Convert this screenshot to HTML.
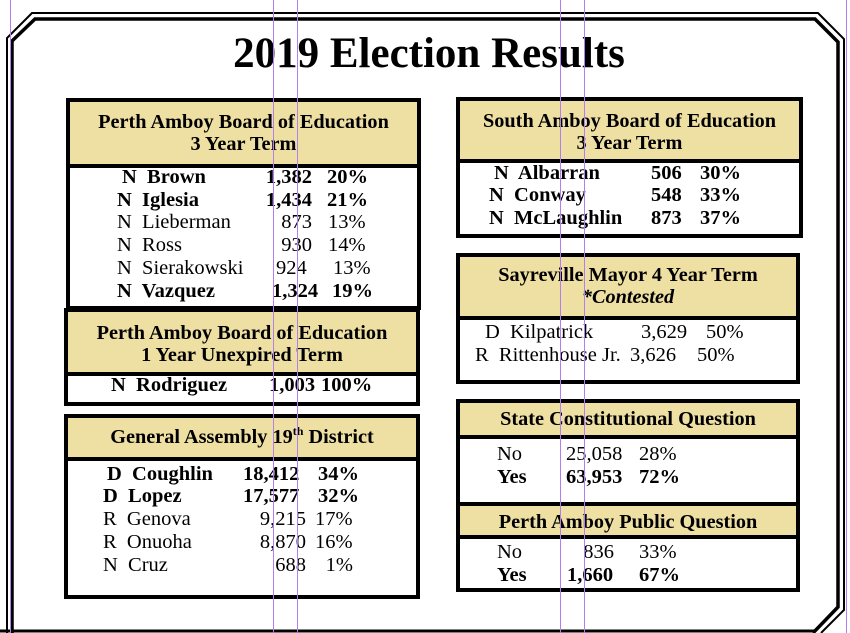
<!DOCTYPE html>
<html><head><meta charset="utf-8"><style>
body{margin:0;width:850px;height:633px;background:#fff;position:relative;overflow:hidden;font-family:"Liberation Serif",serif;color:#000}
.a{position:absolute;white-space:nowrap}
.box{position:absolute;border:4px solid #000;background:#fff;box-sizing:border-box}
.hd{position:absolute;background:#EEDFA3;border-bottom:4px solid #000;left:0;right:0;top:0;text-align:center;font-weight:bold;font-size:20.3px;line-height:22px;box-sizing:border-box}
.r{position:absolute;font-size:20.5px;line-height:22px;white-space:nowrap}
.b{font-weight:bold}
.n{display:inline-block;text-align:right}
.v{position:absolute;top:0;width:1px;height:633px;background:#b27ef0}
</style></head><body>
<svg class="a" style="left:0;top:0" width="850" height="633">
<polyline points="7,633 7,38 32,13 818,13 844,39 844,610 821,633" fill="none" stroke="#000" stroke-width="2"/>
<polyline points="12,633 12,41 35,19 815,19 838,42 838,607 813,633" fill="none" stroke="#000" stroke-width="3.5"/>
<line x1="0" y1="631" x2="816" y2="631" stroke="#000" stroke-width="3"/>
</svg>
<div class="a b" style="left:0;width:858px;text-align:center;top:29px;font-size:43px;line-height:50px">2019 Election Results</div>

<div class="box" style="left:66px;top:98px;width:355px;height:212px">
<div class="hd" style="height:66px;padding-top:9px">Perth Amboy Board of Education<br>3 Year Term</div>
</div>
<div class="r b" style="left:122px;top:166px">N&nbsp; Brown</div><div class="r b" style="left:255px;top:166px"><span class="n" style="width:57px">1,382</span></div><div class="r b" style="left:327px;top:166px">20%</div>
<div class="r b" style="left:117px;top:189px">N&nbsp; Iglesia</div><div class="r b" style="left:255px;top:189px"><span class="n" style="width:57px">1,434</span></div><div class="r b" style="left:327px;top:189px">21%</div>
<div class="r" style="left:117px;top:211px">N&nbsp; Lieberman</div><div class="r" style="left:255px;top:211px"><span class="n" style="width:57px">873</span></div><div class="r" style="left:328px;top:211px">13%</div>
<div class="r" style="left:117px;top:234px">N&nbsp; Ross</div><div class="r" style="left:255px;top:234px"><span class="n" style="width:57px">930</span></div><div class="r" style="left:328px;top:234px">14%</div>
<div class="r" style="left:117px;top:257px">N&nbsp; Sierakowski</div><div class="r" style="left:276px;top:257px">924</div><div class="r" style="left:333px;top:257px">13%</div>
<div class="r b" style="left:117px;top:280px">N&nbsp; Vazquez</div><div class="r b" style="left:272px;top:280px">1,324</div><div class="r b" style="left:332px;top:280px">19%</div>

<div class="box" style="left:64px;top:308px;width:356px;height:98px">
<div class="hd" style="height:64px;padding-top:10px">Perth Amboy Board of Education<br>1 Year Unexpired Term</div>
</div>
<div class="r b" style="left:111px;top:374px">N&nbsp; Rodriguez</div><div class="r b" style="left:269px;top:374px">1,003</div><div class="r b" style="left:321px;top:374px">100%</div>

<div class="box" style="left:64px;top:414px;width:356px;height:185px">
<div class="hd" style="height:43px;padding-top:8px">General Assembly 19<sup style="font-size:12px;line-height:0">th</sup> District</div>
</div>
<div class="r b" style="left:107px;top:463px">D&nbsp; Coughlin</div><div class="r b" style="left:243px;top:463px">18,412</div><div class="r b" style="left:318px;top:463px">34%</div>
<div class="r b" style="left:103px;top:485px">D&nbsp; Lopez</div><div class="r b" style="left:243px;top:485px">17,577</div><div class="r b" style="left:318px;top:485px">32%</div>
<div class="r" style="left:245px;top:508px"><span class="n" style="width:61px">9,215</span></div><div class="r" style="left:103px;top:508px">R&nbsp; Genova</div><div class="r" style="left:315px;top:508px">17%</div>
<div class="r" style="left:103px;top:531px">R&nbsp; Onuoha</div><div class="r" style="left:245px;top:531px"><span class="n" style="width:61px">8,870</span></div><div class="r" style="left:315px;top:531px">16%</div>
<div class="r" style="left:103px;top:554px">N&nbsp; Cruz</div><div class="r" style="left:245px;top:554px"><span class="n" style="width:61px">688</span></div><div class="r" style="left:320px;top:554px"><span class="n" style="width:33px">1%</span></div>

<div class="box" style="left:456px;top:97px;width:347px;height:141px">
<div class="hd" style="height:62px;padding-top:9px">South Amboy Board of Education<br>3 Year Term</div>
</div>
<div class="r b" style="left:494px;top:162px">N&nbsp; Albarran</div><div class="r b" style="left:651px;top:162px">506</div><div class="r b" style="left:700px;top:162px">30%</div>
<div class="r b" style="left:489px;top:184px">N&nbsp; Conway</div><div class="r b" style="left:651px;top:184px">548</div><div class="r b" style="left:700px;top:184px">33%</div>
<div class="r b" style="left:489px;top:207px">N&nbsp; McLaughlin</div><div class="r b" style="left:651px;top:207px">873</div><div class="r b" style="left:700px;top:207px">37%</div>

<div class="box" style="left:456px;top:253px;width:344px;height:131px">
<div class="hd" style="height:63px;padding-top:7px">Sayreville Mayor 4 Year Term<br><i>*Contested</i></div>
</div>
<div class="r" style="left:485px;top:321px">D&nbsp; Kilpatrick</div><div class="r" style="left:641px;top:321px">3,629</div><div class="r" style="left:706px;top:321px">50%</div>
<div class="r" style="left:475px;top:344px">R&nbsp; Rittenhouse Jr.</div><div class="r" style="left:630px;top:344px">3,626</div><div class="r" style="left:697px;top:344px">50%</div>

<div class="box" style="left:456px;top:399px;width:344px;height:193px">
<div class="hd" style="height:36px;padding-top:5px">State Constitutional Question</div>
<div class="hd" style="top:99px;height:37px;padding-top:5px;border-top:4px solid #000">Perth Amboy Public Question</div>
</div>
<div class="r" style="left:497px;top:443px">No</div><div class="r" style="left:566px;top:443px">25,058</div><div class="r" style="left:639px;top:443px">28%</div>
<div class="r b" style="left:497px;top:466px">Yes</div><div class="r b" style="left:566px;top:466px">63,953</div><div class="r b" style="left:639px;top:466px">72%</div>
<div class="r" style="left:555px;top:541px"><span class="n" style="width:59px">836</span></div><div class="r" style="left:497px;top:541px">No</div><div class="r" style="left:639px;top:541px">33%</div>
<div class="r b" style="left:497px;top:564px">Yes</div><div class="r b" style="left:567px;top:564px">1,660</div><div class="r b" style="left:639px;top:564px">67%</div>

<div class="v" style="left:10px"></div><div class="v" style="left:273px"></div><div class="v" style="left:297px"></div>
<div class="v" style="left:560px"></div><div class="v" style="left:584px"></div><div class="v" style="left:846px"></div>
</body></html>
